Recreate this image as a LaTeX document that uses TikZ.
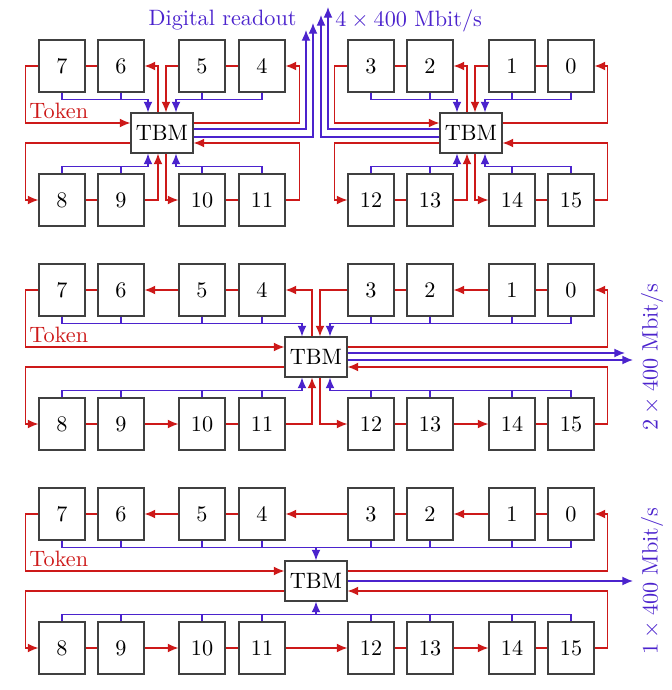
\documentclass[tikz,border=0pt]{standalone}
\usepackage{amsmath}
\usepackage{tikz}
\usetikzlibrary{arrows.meta, calc}

\definecolor{tokred}{RGB}{205,25,25}
\definecolor{rdblue}{RGB}{75,35,205}

\begin{document}
\begin{tikzpicture}[x=0.45pt, y=-0.45pt, >={Latex[length=4.8pt,width=4pt]},
    box/.style={draw=black!75, line width=0.5pt, minimum width=20.7pt, minimum height=23.4pt, inner sep=0pt},
    tbm/.style={draw=black!75, line width=0.5pt, minimum width=27.9pt, minimum height=18pt, inner sep=0pt},
    tok/.style={tokred, line width=0.6pt},
    rd/.style={rdblue, line width=0.6pt},
    tlabel/.style={text=tokred, anchor=south west, inner sep=1.5pt},
    rlabel/.style={text=rdblue, inner sep=0pt}]
        \useasboundingbox (0,0) rectangle (672,690);

        % Modules, three panels
        \foreach \p/\y in {a/66, b/290, c/514} {
            \foreach \n/\x in {7/62, 6/121, 5/202, 4/262, 3/371, 2/430, 1/512, 0/571}
                \node[box] (\p\n) at (\x,\y) {\n};
            \foreach \n/\x in {8/62, 9/121, 10/202, 11/262, 12/371, 13/430, 14/512, 15/571}
                \node[box] (\p\n) at (\x,\y+134) {\n};
        }

        % TBMs
        \node[tbm] (ta) at (162,133) {TBM};
        \node[tbm] (tb) at (471,133) {TBM};
        \node[tbm] (tm) at (316,357) {TBM};
        \node[tbm] (tc) at (316,581) {TBM};

        % ---- Top panel: four readout links ----
        % Token, left TBM
        \draw[tok,->] (a7.west) -- ++(-13,0) |- ($(ta.west)+(0,-10)$) node[pos=.5, tlabel] (toka) {Token};
        \draw[tok] (a7) -- (a6);
        \draw[tok,->] ($(ta.north)+(-4,0)$) |- (a6.east);
        \draw[tok,->] (a5.west) -| ($(ta.north)+(4,0)$);
        \draw[tok] (a5) -- (a4);
        \draw[tok,->] ($(ta.east)+(0,-10)$) -| ($(a4.east)+(14,0)$) -- (a4.east);
        \draw[tok,->] ($(ta.west)+(0,10)$) -| ($(a8.west)+(-13,0)$) -- (a8.west);
        \draw[tok] (a8) -- (a9);
        \draw[tok,->] (a9.east) -| ($(ta.south)+(-4,0)$);
        \draw[tok,->] ($(ta.south)+(4,0)$) |- (a10.west);
        \draw[tok] (a10) -- (a11);
        \draw[tok,->] (a11.east) -- ++(14,0) |- ($(ta.east)+(0,10)$);
        % Token, right TBM
        \draw[tok,->] (a3.west) -- ++(-13,0) |- ($(tb.west)+(0,-10)$);
        \draw[tok] (a3) -- (a2);
        \draw[tok,->] ($(tb.north)+(-4,0)$) |- (a2.east);
        \draw[tok,->] (a1.west) -| ($(tb.north)+(4,0)$);
        \draw[tok] (a1) -- (a0);
        \draw[tok,->] ($(tb.east)+(0,-10)$) -| ($(a0.east)+(13,0)$) -- (a0.east);
        \draw[tok,->] ($(tb.west)+(0,10)$) -| ($(a12.west)+(-13,0)$) -- (a12.west);
        \draw[tok] (a12) -- (a13);
        \draw[tok,->] (a13.east) -| ($(tb.south)+(-4,0)$);
        \draw[tok,->] ($(tb.south)+(4,0)$) |- (a14.west);
        \draw[tok] (a14) -- (a15);
        \draw[tok,->] (a15.east) -- ++(13,0) |- ($(tb.east)+(0,10)$);
        % Readout buses
        \draw[rd,->] (a7.south) -- ++(0,7) -| ($(ta.north)+(-14,0)$);
        \draw[rd] (a6.south) -- ++(0,7);
        \draw[rd,->] (a4.south) -- ++(0,7) -| ($(ta.north)+(14,0)$);
        \draw[rd] (a5.south) -- ++(0,7);
        \draw[rd,->] (a8.north) -- ++(0,-7) -| ($(ta.south)+(-14,0)$);
        \draw[rd] (a9.north) -- ++(0,-7);
        \draw[rd,->] (a11.north) -- ++(0,-7) -| ($(ta.south)+(14,0)$);
        \draw[rd] (a10.north) -- ++(0,-7);
        \draw[rd,->] (a3.south) -- ++(0,7) -| ($(tb.north)+(-14,0)$);
        \draw[rd] (a2.south) -- ++(0,7);
        \draw[rd,->] (a0.south) -- ++(0,7) -| ($(tb.north)+(14,0)$);
        \draw[rd] (a1.south) -- ++(0,7);
        \draw[rd,->] (a12.north) -- ++(0,-7) -| ($(tb.south)+(-14,0)$);
        \draw[rd] (a13.north) -- ++(0,-7);
        \draw[rd,->] (a15.north) -- ++(0,-7) -| ($(tb.south)+(14,0)$);
        \draw[rd] (a14.north) -- ++(0,-7);
        % Digital readout
        \coordinate (ra1) at (306,30);
        \coordinate (ra2) at (313,23);
        \coordinate (ra3) at (321,15);
        \coordinate (ra4) at (328,7);
        \draw[rd,->] ($(ta.east)+(0,-4)$) -| (ra1);
        \draw[rd,->] ($(ta.east)+(0,4)$) -| (ra2);
        \draw[rd,->] ($(tb.west)+(0,4)$) -| (ra3);
        \draw[rd,->] ($(tb.west)+(0,-4)$) -| (ra4);
        \node[rlabel, anchor=east] (dro) at (297,20) {Digital readout};
        \node[rlabel, anchor=west] (rate4) at (335,21) {$4\times400$ Mbit/s};

        % ---- Middle panel: two readout links ----
        \draw[tok,->] (b7.west) -- ++(-13,0) |- ($(tm.west)+(0,-10)$) node[pos=.5, tlabel] (tokb) {Token};
        \draw[tok] (b7) -- (b6);
        \draw[tok,->] (b5) -- (b6);
        \draw[tok] (b5) -- (b4);
        \draw[tok,->] ($(tm.north)+(-4,0)$) |- (b4.east);
        \draw[tok,->] (b3.west) -| ($(tm.north)+(4,0)$);
        \draw[tok] (b3) -- (b2);
        \draw[tok,->] (b1) -- (b2);
        \draw[tok] (b1) -- (b0);
        \draw[tok,->] ($(tm.east)+(0,-10)$) -| ($(b0.east)+(13,0)$) -- (b0.east);
        \draw[tok,->] ($(tm.west)+(0,10)$) -| ($(b8.west)+(-13,0)$) -- (b8.west);
        \draw[tok] (b8) -- (b9);
        \draw[tok,->] (b9) -- (b10);
        \draw[tok] (b10) -- (b11);
        \draw[tok,->] (b11.east) -| ($(tm.south)+(-4,0)$);
        \draw[tok,->] ($(tm.south)+(4,0)$) |- (b12.west);
        \draw[tok] (b12) -- (b13);
        \draw[tok,->] (b13) -- (b14);
        \draw[tok] (b14) -- (b15);
        \draw[tok,->] (b15.east) -- ++(13,0) |- ($(tm.east)+(0,10)$);
        % Readout buses
        \draw[rd,->] (b7.south) -- ++(0,7) -| ($(tm.north)+(-14,0)$);
        \draw[rd,->] (b0.south) -- ++(0,7) -| ($(tm.north)+(14,0)$);
        \draw[rd,->] (b8.north) -- ++(0,-7) -| ($(tm.south)+(-14,0)$);
        \draw[rd,->] (b15.north) -- ++(0,-7) -| ($(tm.south)+(14,0)$);
        \foreach \n in {6,5,4,3,2,1}
            \draw[rd] (b\n.south) -- ++(0,7);
        \foreach \n in {9,10,11,12,13,14}
            \draw[rd] (b\n.north) -- ++(0,-7);
        \coordinate (rb1) at (625,353);
        \coordinate (rb2) at (633,360);
        \draw[rd,->] (tm.east |- rb1) -- (rb1);
        \draw[rd,->] (tm.east |- rb2) -- (rb2);
        \node[rlabel, rotate=90] (rate2) at (652,357) {$2\times400$ Mbit/s};

        % ---- Bottom panel: one readout link ----
        \draw[tok,->] (c7.west) -- ++(-13,0) |- ($(tc.west)+(0,-10)$) node[pos=.5, tlabel] (tokc) {Token};
        \draw[tok] (c7) -- (c6);
        \draw[tok,->] (c5) -- (c6);
        \draw[tok] (c5) -- (c4);
        \draw[tok,->] (c3) -- (c4);
        \draw[tok] (c3) -- (c2);
        \draw[tok,->] (c1) -- (c2);
        \draw[tok] (c1) -- (c0);
        \draw[tok,->] ($(tc.east)+(0,-10)$) -| ($(c0.east)+(13,0)$) -- (c0.east);
        \draw[tok,->] ($(tc.west)+(0,10)$) -| ($(c8.west)+(-13,0)$) -- (c8.west);
        \draw[tok] (c8) -- (c9);
        \draw[tok,->] (c9) -- (c10);
        \draw[tok] (c10) -- (c11);
        \draw[tok,->] (c11) -- (c12);
        \draw[tok] (c12) -- (c13);
        \draw[tok,->] (c13) -- (c14);
        \draw[tok] (c14) -- (c15);
        \draw[tok,->] (c15.east) -- ++(13,0) |- ($(tc.east)+(0,10)$);
        % Readout buses
        \coordinate (cbt) at ($(c7.south)+(0,7)$);
        \coordinate (cbb) at ($(c8.north)+(0,-7)$);
        \draw[rd] (c7.south) -- (cbt) -| (c0.south);
        \draw[rd] (c8.north) -- (cbb) -| (c15.north);
        \foreach \n in {6,5,4,3,2,1}
            \draw[rd] (c\n.south) -- ++(0,7);
        \foreach \n in {9,10,11,12,13,14}
            \draw[rd] (c\n.north) -- ++(0,-7);
        \draw[rd,->] (tc.north |- cbt) -- (tc.north);
        \draw[rd,->] (tc.south |- cbb) -- (tc.south);
        \coordinate (rc1) at (633,581);
        \draw[rd,->] (tc.east) -- (rc1);
        \node[rlabel, rotate=90] (rate1) at (652,581) {$1\times400$ Mbit/s};
\end{tikzpicture}
\end{document}
